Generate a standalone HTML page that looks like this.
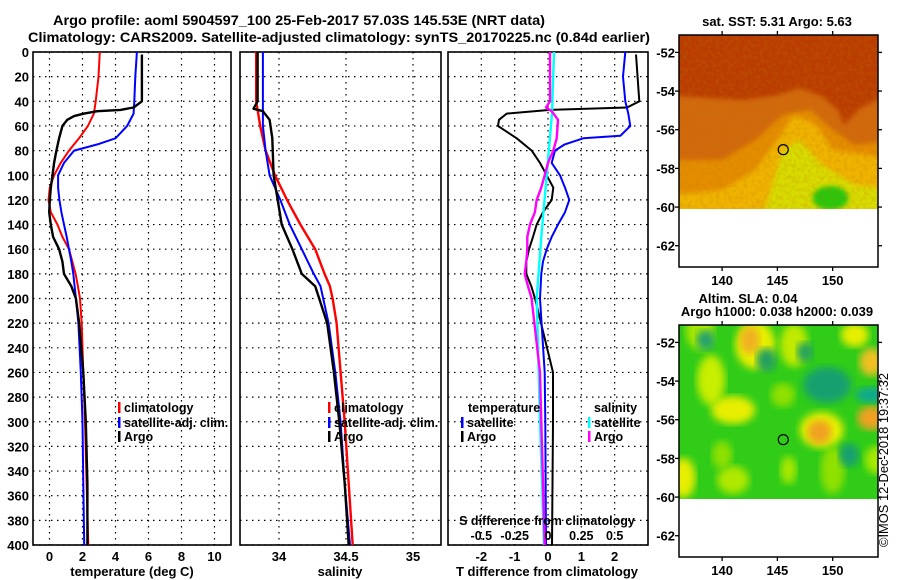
<!DOCTYPE html>
<html><head><meta charset="utf-8"><style>
html,body{margin:0;padding:0;background:#fff}
svg{display:block;font-family:"Liberation Sans",sans-serif;font-weight:bold}
</style></head><body>
<svg id="c" width="900" height="580" viewBox="0 0 900 580">
<defs>
<filter id="blur" x="-10%" y="-10%" width="120%" height="120%"><feGaussianBlur stdDeviation="4"/></filter>
<filter id="blur2" x="-10%" y="-10%" width="120%" height="120%"><feGaussianBlur stdDeviation="2.5"/></filter>
<filter id="noise" x="0" y="0" width="100%" height="100%">
<feTurbulence type="fractalNoise" baseFrequency="0.25" numOctaves="2" seed="3"/>
<feColorMatrix type="matrix" values="0 0 0 0 0.5  0 0 0 0 0.2  0 0 0 0 0  0 0 0 -1.6 1.0"/>
</filter>
<clipPath id="clipSST"><rect x="679" y="35" width="199" height="174"/></clipPath>
<clipPath id="clipSLA"><rect x="679" y="325" width="199" height="174"/></clipPath>
</defs>
<text x="299" y="25" font-size="14" text-anchor="middle" textLength="492" lengthAdjust="spacingAndGlyphs">Argo profile: aoml 5904597_100 25-Feb-2017 57.03S 145.53E (NRT data)</text>
<text x="339" y="42" font-size="14" text-anchor="middle" textLength="622" lengthAdjust="spacingAndGlyphs">Climatology: CARS2009. Satellite-adjusted climatology: synTS_20170225.nc (0.84d earlier)</text>
<g id="plots"></g>
<g id="maps"></g>
<text transform="translate(888,547) rotate(-90)" font-size="13" font-weight="normal" textLength="174" lengthAdjust="spacingAndGlyphs">©IMOS 12-Dec-2018 19:37:32</text>
</svg>
<script>
// ---- data ----
const depthTicks=[0,20,40,60,80,100,120,140,160,180,200,220,240,260,280,300,320,340,360,380,400];
const tempTicks=[0,2,4,6,8,10];
const salTicks=[34,34.5,35];
const salTickLabels=["34","34.5","35"];
const dtTicks=[-2,-1,0,1,2];
const dsTicks=[-0.5,-0.25,0,0.25,0.5];
const dsTickLabels=["-0.5","-0.25","0","0.25","0.5"];

const climTDepth=[0,20,40,50,60,70,80,90,100,110,120,130,140,150,160,170,180,190,200,220,260,300,350,400];
const climT=[3.05,2.97,2.8,2.69,2.33,1.79,1.18,0.68,0.28,0.02,-0.06,0.08,0.48,0.78,1.18,1.38,1.58,1.72,1.85,1.95,2.05,2.15,2.25,2.35];
const satTDepth=[0,20,40,50,60,70,75,80,90,100,110,120,130,140,150,160,170,180,190,200,220,260,300,350,400];
const satT=[5.3,5.2,5.14,5.1,4.7,4.0,2.9,1.49,0.88,0.52,0.52,0.6,0.72,0.88,1.04,1.18,1.32,1.44,1.52,1.6,1.75,1.9,2.0,2.05,2.1];
const argoTDepth=[2,40,45,47,48,50,52,55,60,70,80,90,100,110,120,130,140,150,160,170,180,190,200,220,260,300,350,400];
const argoT=[5.6,5.6,5.1,4.3,2.9,2.1,1.49,1.08,0.78,0.58,0.42,0.28,0.18,0.08,0.02,-0.02,0.08,0.22,0.58,0.78,0.88,1.32,1.6,1.8,2.05,2.2,2.3,2.3];

const climSDepth=[0,40,60,80,100,120,140,160,180,190,200,220,260,300,350,400];
const climS=[33.83,33.83,33.86,33.90,33.97,34.06,34.16,34.27,34.34,34.38,34.40,34.43,34.46,34.49,34.52,34.55];
const satSDepth=[0,40,60,80,100,120,140,160,180,190,200,220,260,300,350,400];
const satS=[33.88,33.88,33.88,33.90,33.93,34.01,34.08,34.17,34.26,34.31,34.33,34.37,34.42,34.46,34.49,34.53];
const argoSDepth=[0,40,46,48,55,70,100,120,140,160,180,190,200,220,260,300,350,400];
const argoS=[33.84,33.84,33.81,33.88,33.93,33.95,33.96,33.99,34.02,34.10,34.17,34.27,34.30,34.36,34.41,34.45,34.49,34.52];

const satDTDepth=[0,20,40,50,60,68,70,75,80,90,100,110,120,130,140,150,160,170,180,200,260,300,400];
const satDT=[2.32,2.25,2.32,2.41,2.47,2.17,1.06,0.5,0.21,0.11,0.36,0.51,0.64,0.51,0.3,0.11,-0.04,-0.15,-0.2,-0.24,-0.1,-0.08,-0.06];
const argoDTDepth=[2,40,45,47,50,55,60,70,80,90,100,110,120,130,140,150,160,170,180,190,200,260,300,400];
const argoDT=[2.64,2.74,2.37,0.06,-1.24,-1.47,-1.5,-0.94,-0.49,-0.24,-0.04,0.16,0.11,-0.15,-0.34,-0.45,-0.57,-0.65,-0.65,-0.5,-0.39,0.15,0.15,0.12];
const satDSDepth=[0,50,100,150,200,260,300,400];
const satDS=[0.045,0.03,-0.01,-0.05,-0.085,-0.07,-0.06,-0.03];
const argoDSDepth=[0,40,45,48,55,70,80,90,100,110,120,130,140,150,160,170,180,190,200,260,300,400];
const argoDS=[0.015,0.015,-0.015,0.028,0.075,0.065,0.04,0,-0.025,-0.05,-0.085,-0.098,-0.135,-0.155,-0.155,-0.163,-0.175,-0.15,-0.123,-0.06,-0.05,-0.025];

const latTicks=[-52,-54,-56,-58,-60,-62];
const lonTicks=[140,145,150];
const argoLon=145.53, argoLat=-57.03;

// ---- helpers ----
const NS="http://www.w3.org/2000/svg";
function mk(tag,parent){const e=document.createElementNS(NS,tag);parent.appendChild(e);return e;}
const TOP=52,BOT=545;
const yD=d=>TOP+(d/400)*(BOT-TOP);
function lin(d0,d1,r0,r1){return v=>r0+(v-d0)/(d1-d0)*(r1-r0);}
const xT=lin(-1,11,33,231);
const xS=lin(33.709,35.209,240,441);
const xDT=lin(-3,3,448,648);
const xDS=lin(-0.75,0.75,448,648);
const plots=document.getElementById('plots');

function panel(name,x0,x1,xticks,xf,labels,title,titleX){
  const g=mk('g',plots);
  
  
  depthTicks.forEach(d=>{
    const l=mk('line',g);
    
    
    l.setAttribute('x1',x0);l.setAttribute('x2',x1);l.setAttribute('y1',yD(d));l.setAttribute('y2',yD(d));
    l.setAttribute('stroke','#000');l.setAttribute('stroke-width','1.2');l.setAttribute('stroke-dasharray','1.5,4.5');
  });
  xticks.forEach((v,i)=>{
    const x=xf(v);
    const l=mk('line',g);
    
    
    l.setAttribute('x1',x);l.setAttribute('x2',x);l.setAttribute('y1',TOP);l.setAttribute('y2',BOT);
    l.setAttribute('stroke','#000');l.setAttribute('stroke-width','1.2');l.setAttribute('stroke-dasharray','1.5,4.5');
    const t=mk('text',g);
    
    
    t.setAttribute('x',x);t.setAttribute('y',561);t.setAttribute('font-size','13');t.setAttribute('text-anchor','middle');
    t.textContent=labels[i];
  });
  const tt=mk('text',g);
  
  
  tt.setAttribute('x',titleX);tt.setAttribute('y',576);tt.setAttribute('font-size','13');tt.setAttribute('text-anchor','middle');
  tt.textContent=title;
  const r=mk('rect',g);
  
  
  r.setAttribute('x',x0);r.setAttribute('y',TOP);r.setAttribute('width',x1-x0);r.setAttribute('height',BOT-TOP);
  r.setAttribute('fill','none');r.setAttribute('stroke','#000');r.setAttribute('stroke-width','1.6');
  return g;
}
function series(g,name,depths,vals,xf,color,w){
  const p=mk('polyline',g);
  
  
  p.setAttribute('points',depths.map((d,i)=>xf(vals[i]).toFixed(1)+','+yD(d).toFixed(1)).join(' '));
  p.setAttribute('fill','none');p.setAttribute('stroke',color);p.setAttribute('stroke-width',w||2);
  p.setAttribute('stroke-linejoin','round');
}
function legendEntry(g,name,x,y,color,label){
  const b=mk('rect',g);
  
  
  b.setAttribute('x',x);b.setAttribute('y',y-10);b.setAttribute('width',2.5);b.setAttribute('height',11);b.setAttribute('fill',color);
  const t=mk('text',g);
  
  
  t.setAttribute('x',x+6);t.setAttribute('y',y);t.setAttribute('font-size','12.5');
  t.textContent=label;
}
function txt(g,name,x,y,s,anchor,size){
  const t=mk('text',g);
  
  
  t.setAttribute('x',x);t.setAttribute('y',y);t.setAttribute('font-size',size||13);
  if(anchor)t.setAttribute('text-anchor',anchor);
  t.textContent=s;return t;
}

const yl=mk('g',plots);


depthTicks.forEach(d=>{txt(yl,'depth-tick-label',29,yD(d)+5,String(d),'end');});

const g1=panel('temperature-panel',33,231,tempTicks,xT,tempTicks.map(String),'temperature (deg C)',132);
series(g1,'temperature-climatology-line',climTDepth,climT,xT,'#ff0000',2);
series(g1,'temperature-satellite-line',satTDepth,satT,xT,'#0000ff',2);
series(g1,'temperature-argo-line',argoTDepth,argoT,xT,'#000000',2.4);
legendEntry(g1,'legend-climatology',118,412,'#ff0000','climatology');
legendEntry(g1,'legend-satellite-adj',118,427,'#0000ff','satellite-adj. clim.');
legendEntry(g1,'legend-argo',118,441,'#000000','Argo');

const g2=panel('salinity-panel',240,441,salTicks,xS,salTickLabels,'salinity',340);
series(g2,'salinity-climatology-line',climSDepth,climS,xS,'#ff0000',2.4);
series(g2,'salinity-satellite-line',satSDepth,satS,xS,'#0000ff',2);
series(g2,'salinity-argo-line',argoSDepth,argoS,xS,'#000000',2.4);
legendEntry(g2,'legend-climatology',328,412,'#ff0000','climatology');
legendEntry(g2,'legend-satellite-adj',328,427,'#0000ff','satellite-adj. clim.');
legendEntry(g2,'legend-argo',328,441,'#000000','Argo');

const g3=panel('difference-panel',448,648,dtTicks,xDT,dtTicks.map(String),'T difference from climatology',547);
series(g3,'t-diff-argo-line',argoDTDepth,argoDT,xDT,'#000000',2);
series(g3,'t-diff-satellite-line',satDTDepth,satDT,xDT,'#0000ff',2);
series(g3,'s-diff-satellite-line',satDSDepth,satDS,xDS,'#00ffff',2.4);
series(g3,'s-diff-argo-line',argoDSDepth,argoDS,xDS,'#ff00ff',2.4);
txt(g3,'legend-temperature-header',468,412,'temperature',null,12.5);
legendEntry(g3,'legend-t-satellite',461,427,'#0000ff','satellite');
legendEntry(g3,'legend-t-argo',461,441,'#000000','Argo');
txt(g3,'legend-salinity-header',594,412,'salinity',null,12.5);
legendEntry(g3,'legend-s-satellite',588,427,'#00ffff','satellite');
legendEntry(g3,'legend-s-argo',588,441,'#ff00ff','Argo');
txt(g3,'s-diff-axis-title',547,525,'S difference from climatology','middle',12.5);
dsTicks.forEach((v,i)=>txt(g3,'s-diff-tick-label',xDS(v),540,dsTickLabels[i],'middle',12.5));

// ---- maps ----
const maps=document.getElementById('maps');
const MX0=679,MX1=878;
const mx=lin(136.1,154.1,MX0,MX1);
function mapFrame(name,top){
  const g=mk('g',maps);
  
  
  const my=lat=>top+(-51.1-lat)*(232/12);
  return {g,my,top};
}
function mapAxes(m,title1,title2){
  const g=m.g,my=m.my,top=m.top;
  latTicks.forEach(l=>{
    const y=my(l);
    txt(g,'lat-tick-label',675,y+5,String(l),'end');
    [[MX0-4,MX0],[MX1,MX1+4]].forEach(p=>{const t=mk('line',g);
      
      
      t.setAttribute('x1',p[0]);t.setAttribute('x2',p[1]);t.setAttribute('y1',y);t.setAttribute('y2',y);t.setAttribute('stroke','#000');t.setAttribute('stroke-width','1.3');});
  });
  lonTicks.forEach(l=>{
    const x=mx(l);
    txt(g,'lon-tick-label',x,top+250,String(l),'middle');
    [[top-4,top],[top+232,top+236]].forEach(p=>{const t=mk('line',g);
      
      
      t.setAttribute('x1',x);t.setAttribute('x2',x);t.setAttribute('y1',p[0]);t.setAttribute('y2',p[1]);t.setAttribute('stroke','#000');t.setAttribute('stroke-width','1.3');});
  });
  const c=mk('circle',g);
  
  
  c.setAttribute('cx',mx(argoLon));c.setAttribute('cy',my(argoLat));c.setAttribute('r',5);c.setAttribute('fill','none');c.setAttribute('stroke','#000');c.setAttribute('stroke-width','1.2');
  const r=mk('rect',g);
  
  
  r.setAttribute('x',MX0);r.setAttribute('y',top);r.setAttribute('width',MX1-MX0);r.setAttribute('height',232);r.setAttribute('fill','none');r.setAttribute('stroke','#000');r.setAttribute('stroke-width','1.5');
  if(title2){txt(g,'map-title',748,top-22,title1,'middle');txt(g,'map-subtitle',777,top-9,title2,'middle');}
  else txt(g,'map-title',777,top-9,title1,'middle');
}
function poly(parent,name,pts,fill,filt){
  const p=mk('polygon',parent);
  
  
  p.setAttribute('points',pts.map(q=>mx(q[0]).toFixed(1)+','+q[1]).join(' '));
  p.setAttribute('fill',fill);if(filt)p.setAttribute('filter',filt);
}
function ell(parent,name,lon,y,rx,ry,fill,filt){
  const e=mk('ellipse',parent);
  
  
  e.setAttribute('cx',mx(lon));e.setAttribute('cy',y);e.setAttribute('rx',rx);e.setAttribute('ry',ry);e.setAttribute('fill',fill);
  if(filt)e.setAttribute('filter',filt);
}
// SST map
const sst=mapFrame('sst-map',35);
const sstImg=mk('g',sst.g);
sstImg.setAttribute('clip-path','url(#clipSST)');


const bg=mk('rect',sstImg);


bg.setAttribute('x',MX0);bg.setAttribute('y',35);bg.setAttribute('width',199);bg.setAttribute('height',174);bg.setAttribute('fill','#ba3c00');
poly(sstImg,'sst-orange-region',[[135,95],[139,98],[142,100],[145,95],[147,88],[149,96],[150.5,110],[151,125],[152.5,108],[154,100],[156,100],[156,215],[135,215]],'#d2680c','url(#blur2)');
poly(sstImg,'sst-light-orange-region',[[135,160],[140,160],[143,140],[145.5,115],[148,110],[150,130],[152,145],[156,140],[156,215],[135,215]],'#e58d06','url(#blur2)');
poly(sstImg,'sst-yellow-region',[[135,195],[140,190],[143,170],[145,140],[146.5,115],[148.5,125],[150,150],[156,160],[156,215],[135,215]],'#f0b400','url(#blur2)');
poly(sstImg,'sst-yellow-green-region',[[144,205],[145.5,150],[147,140],[149,165],[152,185],[156,190],[156,215],[144,215]],'#d8dc00','url(#blur2)');
ell(sstImg,'sst-green-patch',149.8,198,18,12,'#28c810','url(#blur2)');
const nz=mk('rect',sstImg);


nz.setAttribute('x',MX0);nz.setAttribute('y',35);nz.setAttribute('width',199);nz.setAttribute('height',174);nz.setAttribute('filter','url(#noise)');nz.setAttribute('opacity','0.35');
const sea=mk('rect',sst.g);


sea.setAttribute('x',MX0);sea.setAttribute('y',209);sea.setAttribute('width',199);sea.setAttribute('height',58);sea.setAttribute('fill','#fff');
mapAxes(sst,'sat. SST: 5.31 Argo: 5.63');

// SLA map
const sla=mapFrame('sla-map',325);
const slaImg=mk('g',sla.g);
slaImg.setAttribute('clip-path','url(#clipSLA)');


const bg2=mk('rect',slaImg);


bg2.setAttribute('x',MX0);bg2.setAttribute('y',325);bg2.setAttribute('width',199);bg2.setAttribute('height',174);bg2.setAttribute('fill','#30cc18');
const blobs=[
 [138,330,14,20,'#a8e800'],[139,380,14,25,'#c8ee00'],[141,410,22,14,'#e8ee00'],[143,345,20,24,'#e8ee00'],[142.5,340,10,14,'#f0b020'],
 [146.5,345,14,22,'#c0ea00'],[152,335,14,12,'#e8ee00'],[153.5,362,12,14,'#f0c020'],[149,430,22,18,'#e8ee00'],[148.8,432,12,12,'#f0a020'],
 [153.5,418,14,12,'#f0a020'],[136.5,478,12,20,'#e8ee00'],[141,480,16,14,'#b0e800'],[145.5,395,12,12,'#90e000'],[150,470,12,24,'#90e000'],
 [144,360,10,12,'#20a060'],[138.5,340,9,10,'#20a070'],[149.5,385,24,18,'#18a070'],[153.5,395,16,8,'#10a890'],[147.5,352,8,10,'#20a060'],
 [151.5,455,10,12,'#18a070'],[140,455,10,14,'#90e000'],[154,460,12,14,'#a8e800'],[146,470,8,14,'#a8e800']
];
blobs.forEach(b=>ell(slaImg,'sla-anomaly-blob',b[0],b[1],b[2],b[3],b[4],'url(#blur)'));
const sea2=mk('rect',sla.g);


sea2.setAttribute('x',MX0);sea2.setAttribute('y',499);sea2.setAttribute('width',199);sea2.setAttribute('height',58);sea2.setAttribute('fill','#fff');
mapAxes(sla,'Altim. SLA: 0.04','Argo h1000: 0.038 h2000: 0.039');
</script>
</body></html>
